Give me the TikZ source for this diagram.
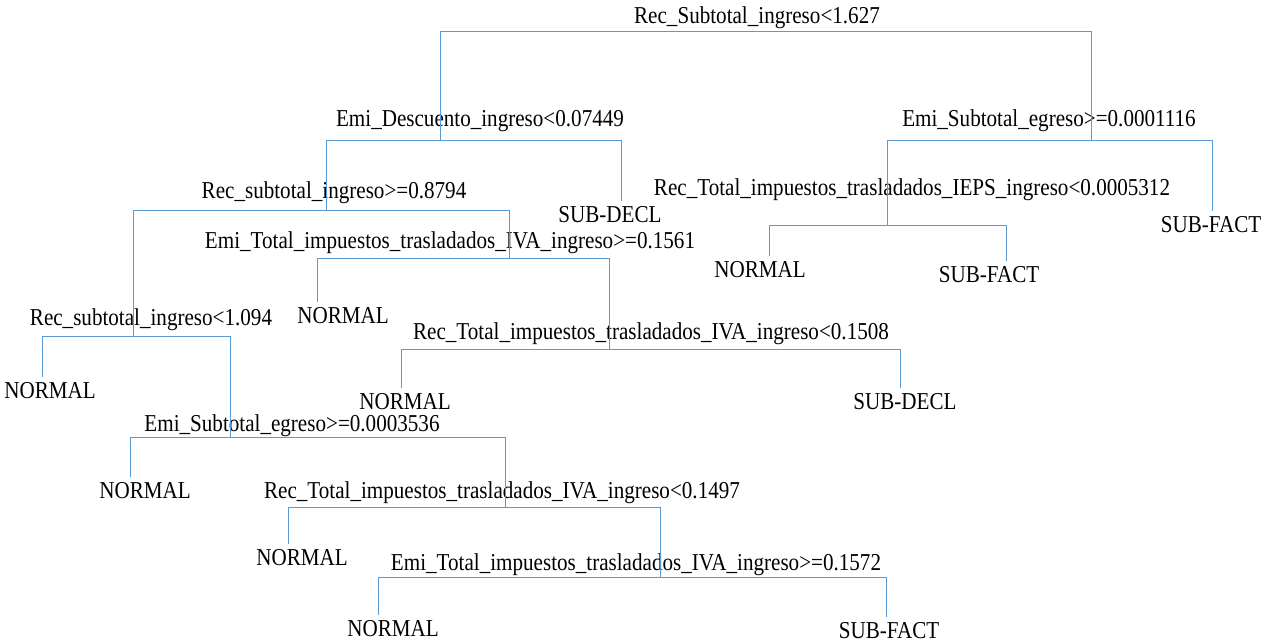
\documentclass[tikz,border=0pt]{standalone}
\usepackage{fontspec}
\setmainfont{Liberation Serif}[FakeStretch=0.87]
\definecolor{treeblue}{HTML}{5B9BD5}
\tikzset{
  split/.style={inner sep=1pt, font=\fontsize{13.8}{16}\selectfont},
  leaf/.style={inner sep=3pt, font=\fontsize{13.8}{16}\selectfont},
  branch/.style={draw=treeblue, line width=0.5pt}
}
\begin{document}
\begin{tikzpicture}[x=0.02cm,y=-0.02cm]
\useasboundingbox (0,0) rectangle (1267,644);

% root split
\node[split] (root) at (757,18) {Rec\_Subtotal\_ingreso<1.627};
\coordinate (rootL) at (440,31);
\coordinate (rootR) at (1091,31);
\draw[branch] (rootL) -- (rootR);

% left branch
\node[split] (desc) at (480,121) {Emi\_Descuento\_ingreso<0.07449};
\coordinate (descL) at (326,140);
\coordinate (descR) at (621,140);
\draw[branch] (descL) -- (descR);
\draw[branch] (rootL) -- (rootL |- descL);

\node[leaf] (declA) at (610,215) {SUB-DECL};
\draw[branch] (descR) -- (descR |- declA.north);

\node[split] (recA) at (334,193) {Rec\_subtotal\_ingreso>=0.8794};
\coordinate (recAL) at (133,210);
\coordinate (recAR) at (509,210);
\draw[branch] (recAL) -- (recAR);
\draw[branch] (descL) -- (descL |- recAL);

\node[split] (ivaA) at (450,243) {Emi\_Total\_impuestos\_trasladados\_IVA\_ingreso>=0.1561};
\coordinate (ivaAL) at (317,258);
\coordinate (ivaAR) at (609,258);
\draw[branch] (ivaAL) -- (ivaAR);
\draw[branch] (recAR) -- (recAR |- ivaAL);

\node[leaf] (normA) at (343,316) {NORMAL};
\draw[branch] (ivaAL) -- (ivaAL |- normA.north);

\node[split] (ivaB) at (651,334) {Rec\_Total\_impuestos\_trasladados\_IVA\_ingreso<0.1508};
\coordinate (ivaBL) at (401,349);
\coordinate (ivaBR) at (900,349);
\draw[branch] (ivaBL) -- (ivaBR);
\draw[branch] (ivaAR) -- (ivaAR |- ivaBL);

\node[leaf] (normB) at (405,402) {NORMAL};
\draw[branch] (ivaBL) -- (ivaBL |- normB.north);
\node[leaf] (declB) at (905,402) {SUB-DECL};
\draw[branch] (ivaBR) -- (ivaBR |- declB.north);

\node[split] (recB) at (151,320) {Rec\_subtotal\_ingreso<1.094};
\coordinate (recBL) at (42,336);
\coordinate (recBR) at (230,336);
\draw[branch] (recBL) -- (recBR);
\draw[branch] (recAL) -- (recAL |- recBL);

\node[leaf] (normC) at (50,391) {NORMAL};
\draw[branch] (recBL) -- (recBL |- normC.north);

\node[split] (egrA) at (292,426) {Emi\_Subtotal\_egreso>=0.0003536};
\coordinate (egrAL) at (130,437);
\coordinate (egrAR) at (505,437);
\draw[branch] (egrAL) -- (egrAR);
\draw[branch] (recBR) -- (recBR |- egrAL);

\node[leaf] (normD) at (145,491) {NORMAL};
\draw[branch] (egrAL) -- (egrAL |- normD.north);

\node[split] (ivaC) at (502,493) {Rec\_Total\_impuestos\_trasladados\_IVA\_ingreso<0.1497};
\coordinate (ivaCL) at (288,507);
\coordinate (ivaCR) at (660,507);
\draw[branch] (ivaCL) -- (ivaCR);
\draw[branch] (egrAR) -- (egrAR |- ivaCL);

\node[leaf] (normE) at (302,558) {NORMAL};
\draw[branch] (ivaCL) -- (ivaCL |- normE.north);

\node[split] (ivaD) at (636,565) {Emi\_Total\_impuestos\_trasladados\_IVA\_ingreso>=0.1572};
\coordinate (ivaDL) at (378,577);
\coordinate (ivaDR) at (886,577);
\draw[branch] (ivaDL) -- (ivaDR);
\draw[branch] (ivaCR) -- (ivaCR |- ivaDL);

\node[leaf] (normF) at (393,629) {NORMAL};
\draw[branch] (ivaDL) -- (ivaDL |- normF.north);
\node[leaf] (factA) at (889,631) {SUB-FACT};
\draw[branch] (ivaDR) -- (ivaDR |- factA.north);

% right branch
\node[split] (egrB) at (1049,121) {Emi\_Subtotal\_egreso>=0.0001116};
\coordinate (egrBL) at (887,140);
\coordinate (egrBR) at (1212,140);
\draw[branch] (egrBL) -- (egrBR);
\draw[branch] (rootR) -- (rootR |- egrBL);

\node[leaf] (factB) at (1211,225) {SUB-FACT};
\draw[branch] (egrBR) -- (egrBR |- factB.north);

\node[split] (ieps) at (912,190) {Rec\_Total\_impuestos\_trasladados\_IEPS\_ingreso<0.0005312};
\coordinate (iepsL) at (769,225);
\coordinate (iepsR) at (1006,225);
\draw[branch] (iepsL) -- (iepsR);
\draw[branch] (egrBL) -- (egrBL |- iepsL);

\node[leaf] (normG) at (760,270) {NORMAL};
\draw[branch] (iepsL) -- (iepsL |- normG.north);
\node[leaf] (factC) at (989,275) {SUB-FACT};
\draw[branch] (iepsR) -- (iepsR |- factC.north);

\end{tikzpicture}
\end{document}
